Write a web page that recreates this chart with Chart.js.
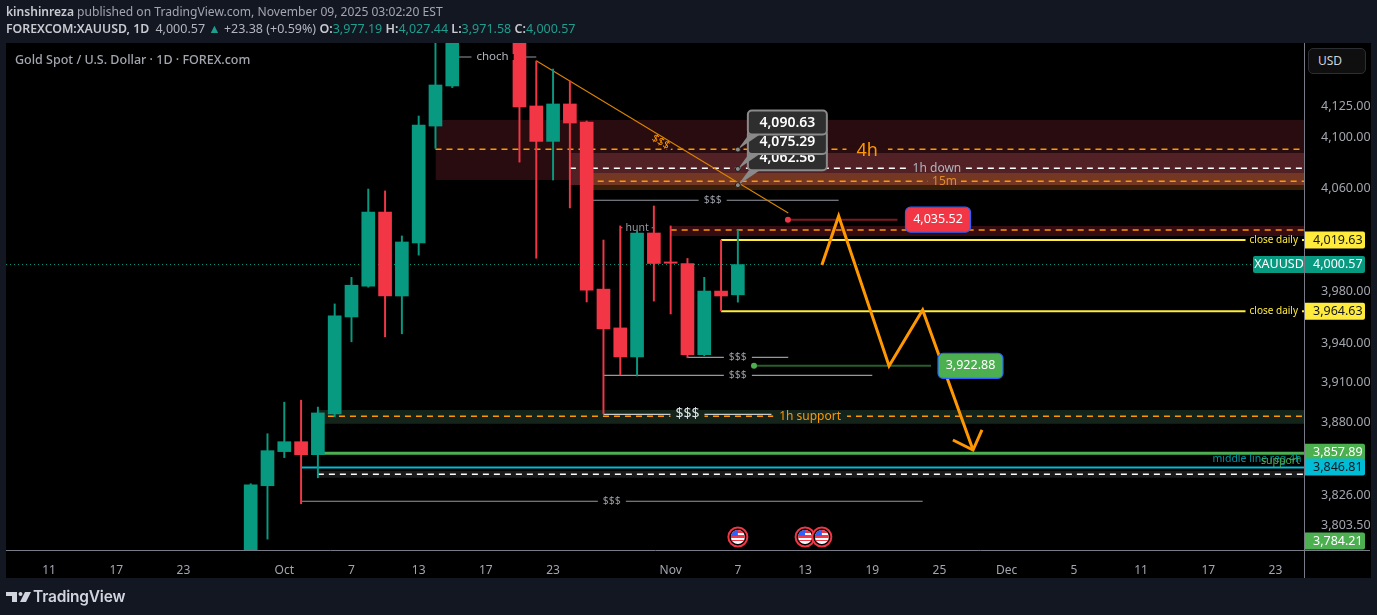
<!DOCTYPE html>
<html lang="en">
<head>
<meta charset="UTF-8">
<title>Gold Spot / U.S. Dollar</title>
<script src="https://cdn.jsdelivr.net/npm/chart.js"></script>
<style>
  html, body { margin: 0; padding: 0; background: #131722; width: 1377px; height: 615px; overflow: hidden; }
  body { font-family: 'Noto Sans', sans-serif; position: relative; }
  canvas { position: absolute; left: 0; top: 0; }
  .txt { position: absolute; white-space: pre; }
  #line1 { left: 6px; top: 3px; font-size: 12.1px; color: #a3a6af; }
  #line2 { left: 6px; top: 20px; font-size: 12.5px; color: #b2b5be; }
  #line1 b, #line2 b { color: #c8cad0; font-weight: 600; }
  #line2 b.sym { font-size: 12.3px; margin-right: 3px; }
  #line2 i { font-style: normal; color: #1f9e8e; }
  #title { left: 15px; top: 51px; font-size: 12.5px; font-weight: 500; color: #a3a6af; }
  #usd { left: 1308px; top: 48px; width: 58px; height: 26px; box-sizing: border-box; border: 1px solid #2c2e33; border-radius: 5px;
         background: #0f0f0f; color: #d1d4dc; font-size: 12px; line-height: 24px; padding-left: 9px; }
  #logo { left: 6px; top: 591px; }
  #brand { left: 33px; top: 587px; font-family: Inter, sans-serif; font-size: 15.5px; font-weight: 600; letter-spacing: -0.2px; color: #d1d4dc; }
</style>
</head>
<body>
<canvas id="chart" width="1377" height="615"></canvas>
<div class="txt" id="line1"><b>kinshinreza</b> published on TradingView.com, November 09, 2025 03:02:20 EST</div>
<div class="txt" id="line2"><b class="sym">FOREXCOM:XAUUSD, 1D</b> 4,000.57 <i>▲</i> +23.38 (+0.59%) <b>O:</b><i>3,977.19</i> <b>H:</b><i>4,027.44</i> <b>L:</b><i>3,971.58</i> <b>C:</b><i>4,000.57</i></div>
<div class="txt" id="title">Gold Spot / U.S. Dollar · 1D · FOREX.com</div>
<div class="txt" id="usd">USD</div>
<svg class="txt" id="logo" width="26" height="12" viewBox="0 0 26 12">
  <path d="M0 1h11v10H6V5H0z" fill="#d1d4dc"/><circle cx="14.5" cy="3" r="2" fill="#d1d4dc"/><path d="M19 1h6l-5 10h-6z" fill="#d1d4dc"/>
</svg>
<div class="txt" id="brand">TradingView</div>

<script>
// bars are counted from Oct 1
const candleBars = [-2, -1, 0, 1, 2, 3, 4, 5, 6, 7, 8, 9, 10, 14, 15, 16, 17, 18, 19, 20, 21, 22, 23, 24, 25, 26, 27];
const opens  = [3770, 3832.9, 3858.3, 3865.7, 3856.0, 3886.5, 3960.2, 3983.9, 4041.5, 3976.3, 4017.3, 4109.3, 4141.3, 4190, 4125.3, 4097.1, 4126.9, 4112.5, 3981.6, 3951.8, 3929.7, 4025.1, 4002.6, 4001.4, 3931.3, 3980.1, 3977.19];
const highs  = [3834.4, 3871.7, 3895.4, 3896.9, 3891.7, 3970.2, 3990.7, 4059.5, 4058.0, 4022.8, 4117.3, 4190, 4200, 4200, 4161.3, 4154.9, 4145.3, 4113.3, 4019.6, 4030.6, 4027.4, 4046.2, 4030.6, 4005.3, 3990.7, 4019.6, 4027.44];
const lows   = [3760, 3793.5, 3853.8, 3819.5, 3838.8, 3884.3, 3941.2, 3983.1, 3945.0, 3947.3, 4007.9, 4091.6, 4140, 4080.7, 4005.5, 4066.6, 4044.7, 3971.7, 3886.6, 3916.0, 3915.2, 3972.4, 3962.5, 3929.0, 3930.5, 3964.8, 3971.58];
const closes = [3833.6, 3859.0, 3865.7, 3856.0, 3887.3, 3961.0, 3984.6, 4041.5, 3976.3, 4018.1, 4110.1, 4142.1, 4190, 4124.5, 4097.1, 4126.9, 4111.7, 3980.8, 3951.1, 3929.7, 4025.1, 4001.4, 4001.6, 3931.3, 3980.1, 3976.3, 4000.57];

const timeTickBars = [-14, -10, -6, 0, 4, 8, 12, 16, 23, 27, 31, 35, 39, 43, 47, 51, 55, 59];
const timeTickLabels = ['11', '17', '23', 'Oct', '7', '13', '17', '23', 'Nov', '7', '13', '19', '25', 'Dec', '5', '11', '17', '23'];
const priceTicks = [4125, 4100, 4060, 3980, 3940, 3910, 3880, 3826, 3803.5];

const viewBars = [-16.565, 60.7];
const viewPrices = [3785.5, 4175.9];

// shaded zones: first bar, top price, bottom price
const zoneStarts  = [9, 17, 18, 18, 23, 2, 2];
const zoneTops    = [4114.1, 4087.9, 4072.1, 4072.1, 4030.6, 3889.5, 3843.8];
const zoneBottoms = [4066.6, 4062.6, 4058.7, 4062.6, 4022.8, 3879.2, 3838.8];

// horizontal levels: first bar, last bar, price
const dashedStarts = [9, 17, 18, 23, 2.6, 2];
const dashedPrices = [4090.9, 4075.9, 4065.6, 4027.44, 3884.8, 3841.4];
const thinStarts = [10.4, 18, 20, 24, 19, 19, 1];
const thinEnds   = [15, 33, 22, 30, 35, 29, 38];
const thinPrices = [4164.6, 4050.7, 4029.2, 3929.4, 3915.7, 3886.2, 3821.4];
const closeDailyPrices = [4019.63, 3964.63];
const closeDailyStart = 26;
const supportLevelPrices = [3857, 3846.4];
const supportLevelStarts = [2, 1];
const lastPrice = 4000.57;

const trendBars = [15, 30];
const trendPrices = [4161.6, 4040.7];
const targetPrices = [4035.52, 3922.88];
const targetStarts = [29.98, 27.96];
const targetEnds = [36.5, 38.5];

const pathBars = [32, 33, 36, 38, 41];
const pathPrices = [4000.2, 4038.4, 3922.8, 3965.6, 3859.5];
const arrowBars = [39.8, 41, 41.53];
const arrowPrices = [3867, 3859.5, 3874.5];

const calloutBar = 27;
const calloutPrices = [4090.63, 4075.29, 4062.56];
const eventBars = [27, 31, 32];

const noteTexts  = ['choch', '$$$', 'hunt', '$$$', '$$$', '$$$', '$$$', '$$$', '4h', '1h down', '15m', '1h support', 'close daily', 'close daily', 'middle line reg 4h', 'support'];
const noteBars   = [12.4, 25.5, 21, 27, 27, 24, 19.5, 22.4, 34.7, 38.85, 39.3, 31.3, 58.9, 58.9, 57.9, 59.3];
const notePrices = [4164.6, 4050.7, 4029.2, 3929.4, 3915.7, 3886.2, 3821.4, 4096.5, 4090.9, 4075.9, 4065.6, 3884.8, 4019.63, 3964.63, 3852.8, 3851.5];

// price tags on the right axis
const tagPrices = [4019.63, 4000.57, 3964.63, 3857.89, 3846.81, 3784.21];

const fmt = v => v.toLocaleString('en-US', { minimumFractionDigits: 2, maximumFractionDigits: 2 });
const FONT = "'Noto Sans', sans-serif";
const UP = '#089981', DOWN = '#f23645', ORANGE = '#ff9800', YELLOW = '#ffeb3b', GREEN = '#4caf50', CYAN = '#00bcd4', GREY = '#9598a1';

const zoneColors = ['#290c0f', '#522126', '#3a1f08', '#743723', '#360c11', '#14241a', '#1a1a1a'];
const dashedColors = [ORANGE, '#ffffff', ORANGE, ORANGE, ORANGE, '#ffffff'];
const noteLooks = [
  { size: 11.5, color: '#b2b5be', bg: '#000', pad: 5 },
  { size: 10.5, color: GREY, bg: '#000', pad: 5 },
  { size: 10.5, color: GREY, bg: '#000', pad: 3 },
  { size: 10.5, color: GREY, bg: '#000', pad: 5 },
  { size: 10.5, color: GREY, bg: '#000', pad: 5 },
  { size: 14, color: '#e0e3eb', bg: '#14241a', pad: 5 },
  { size: 10.5, color: GREY, bg: '#000', pad: 5 },
  { size: 11, color: ORANGE, bg: '#290c0f', pad: 3, rotate: 31 },
  { size: 18, color: ORANGE, bg: '#290c0f', pad: 10, dy: 2 },
  { size: 12, color: '#b2b5be', bg: '#522126', pad: 4 },
  { size: 12, color: '#e08a2c', bg: '#743723', pad: 4 },
  { size: 12, color: ORANGE, bg: '#14241a', pad: 6 },
  { size: 10, color: YELLOW, bg: '#000', pad: 4 },
  { size: 10, color: YELLOW, bg: '#000', pad: 4 },
  { size: 10.5, color: '#0097a7' },
  { size: 10.5, color: GREEN }
];
const tagLooks = [
  { fill: YELLOW, text: '#131722' },
  { fill: UP, text: '#ffffff', name: 'XAUUSD' },
  { fill: YELLOW, text: '#131722' },
  { fill: GREEN, text: '#ffffff' },
  { fill: CYAN, text: '#131722' },
  { fill: GREEN, text: '#ffffff' }
];

const line = (pts, color, width, extra) => Object.assign({
  type: 'line', data: pts, borderColor: color, borderWidth: width, pointRadius: 0, tension: 0, fill: false, order: 30
}, extra);
const level = (x0, x1, y, color, width, extra) => line([{ x: x0, y }, { x: x1, y }], color, width, extra);

const datasets = [];
zoneStarts.forEach((start, i) => {
  datasets.push(line([{ x: start, y: zoneTops[i] }, { x: viewBars[1], y: zoneTops[i] }], 'transparent', 0, {
    fill: { value: zoneBottoms[i] }, backgroundColor: zoneColors[i], order: 60 - i
  }));
});
dashedStarts.forEach((start, i) => {
  datasets.push(level(start, viewBars[1], dashedPrices[i], dashedColors[i], 1.4, { borderDash: [6, 5], order: 40 }));
});
datasets.push(level(viewBars[0], viewBars[1], lastPrice, UP, 1, { borderDash: [1, 3], order: 35 }));
thinStarts.forEach((start, i) => {
  datasets.push(level(start, thinEnds[i], thinPrices[i], i === 5 ? '#c8cad0' : GREY, 1.2, { order: 32 }));
});
closeDailyPrices.forEach(p => datasets.push(level(closeDailyStart, viewBars[1], p, YELLOW, 2)));
supportLevelPrices.forEach((p, i) => datasets.push(level(supportLevelStarts[i], viewBars[1], p, i ? CYAN : GREEN, i ? 2 : 3)));
datasets.push(line(trendBars.map((x, i) => ({ x, y: trendPrices[i] })), '#d98500', 1.1, { order: 25 }));
targetPrices.forEach((p, i) => {
  datasets.push(level(targetStarts[i], targetEnds[i], p, i ? '#2b5e2d' : '#801922', 2, { order: 24 }));
  datasets.push(line([{ x: targetStarts[i], y: p }], i ? GREEN : DOWN, 0, { pointRadius: 3, pointBackgroundColor: i ? GREEN : DOWN, pointBorderWidth: 0, order: 23 }));
});
datasets.push({
  type: 'bar', data: candleBars.map((x, i) => ({ x, y: [lows[i], highs[i]] })), grouped: false, barPercentage: 1, categoryPercentage: 1,
  maxBarThickness: 1.3, backgroundColor: closes.map((c, i) => c >= opens[i] ? UP : DOWN), order: 20
});
datasets.push({
  type: 'bar', data: candleBars.map((x, i) => ({ x, y: [opens[i], closes[i]] })), grouped: false, barPercentage: 1, categoryPercentage: 1,
  maxBarThickness: 13, minBarLength: 1, backgroundColor: closes.map((c, i) => c >= opens[i] ? UP : DOWN), order: 10
});
datasets.push(line(pathBars.map((x, i) => ({ x, y: pathPrices[i] })), ORANGE, 3, { order: 5 }));
datasets.push(line(arrowBars.map((x, i) => ({ x, y: arrowPrices[i] })), ORANGE, 3, { order: 5 }));

function roundBox(ctx, x, y, w, h, r, fill, stroke, sw) {
  ctx.beginPath();
  ctx.roundRect(x, y, w, h, r);
  ctx.fillStyle = fill;
  ctx.fill();
  if (stroke) { ctx.strokeStyle = stroke; ctx.lineWidth = sw; ctx.stroke(); }
}

function drawNotes(chart) {
  const { ctx, scales: { x, y } } = chart;
  noteTexts.forEach((text, i) => {
    const look = noteLooks[i];
    ctx.save();
    ctx.translate(x.getPixelForValue(noteBars[i]), y.getPixelForValue(notePrices[i]));
    if (look.rotate) ctx.rotate(look.rotate * Math.PI / 180);
    ctx.font = look.size + 'px ' + FONT;
    ctx.textAlign = 'center';
    ctx.textBaseline = 'middle';
    if (look.bg) {
      // only a short break in the line under the text, not a full box
      const w = ctx.measureText(text).width + look.pad * 2;
      ctx.fillStyle = look.bg;
      ctx.fillRect(-w / 2, -3, w, 6);
    }
    ctx.fillStyle = look.color;
    ctx.fillText(text, 0, look.dy || 0);
    ctx.restore();
  });
}

function drawTargets(chart) {
  const { ctx, scales: { y } } = chart;
  const lefts = [905.5, 938];
  const widths = [65, 65];
  targetPrices.forEach((p, i) => {
    const py = y.getPixelForValue(p);
    roundBox(ctx, lefts[i], py - 12.5, widths[i], 25, 5, i ? GREEN : DOWN, '#2962ff', 1.2);
    ctx.fillStyle = '#ffffff';
    ctx.font = '12.5px ' + FONT;
    ctx.textAlign = 'center';
    ctx.textBaseline = 'middle';
    ctx.fillText(fmt(p), lefts[i] + widths[i] / 2, py);
  });
}

function drawCallouts(chart) {
  const { ctx, scales: { x, y } } = chart;
  const dotX = x.getPixelForValue(calloutBar);
  [2, 1, 0].forEach(i => {
    const dotY = y.getPixelForValue(calloutPrices[i]);
    const left = dotX + 10, top = dotY - 39, right = dotX + 89, bottom = dotY - 15;
    ctx.beginPath();
    ctx.moveTo(dotX, dotY);
    ctx.lineTo(left + 1, bottom);
    ctx.lineTo(left + 12, bottom);
    ctx.closePath();
    ctx.fillStyle = '#8a8a8a';
    ctx.fill();
    roundBox(ctx, left, top, right - left, bottom - top, 4, '#2e2e2e', '#8a8a8a', 2);
    ctx.fillStyle = '#ffffff';
    ctx.font = '600 14px ' + FONT;
    ctx.textAlign = 'center';
    ctx.textBaseline = 'middle';
    ctx.fillText(fmt(calloutPrices[i]), (left + right) / 2, (top + bottom) / 2);
    ctx.beginPath();
    ctx.arc(dotX, dotY, 2.5, 0, Math.PI * 2);
    ctx.fillStyle = '#8a8a8a';
    ctx.strokeStyle = '#1a1a1a';
    ctx.lineWidth = 1;
    ctx.fill();
    ctx.stroke();
  });
}

function drawEvents(chart) {
  const { ctx, chartArea, scales: { x } } = chart;
  const py = chartArea.bottom - 13;
  eventBars.forEach(bar => {
    const px = x.getPixelForValue(bar);
    ctx.save();
    ctx.beginPath();
    ctx.arc(px, py, 9.5, 0, Math.PI * 2);
    ctx.fillStyle = '#000';
    ctx.fill();
    ctx.strokeStyle = DOWN;
    ctx.lineWidth = 2;
    ctx.stroke();
    ctx.beginPath();
    ctx.arc(px, py, 7, 0, Math.PI * 2);
    ctx.clip();
    ctx.fillStyle = '#ffffff';
    ctx.fillRect(px - 8, py - 8, 16, 16);
    ctx.fillStyle = DOWN;
    ctx.fillRect(px - 8, py - 7, 16, 3);
    ctx.fillRect(px - 8, py - 2, 16, 3);
    ctx.fillRect(px - 8, py + 3, 16, 1);
    ctx.fillStyle = '#2962ff';
    ctx.fillRect(px - 8, py - 8, 8, 7);
    ctx.restore();
  });
}

function drawTags(chart) {
  const { ctx, chartArea, scales: { y } } = chart;
  const left = chartArea.right + 1;
  tagPrices.forEach((p, i) => {
    const look = tagLooks[i];
    const py = Math.min(y.getPixelForValue(p), chartArea.bottom - 9);
    ctx.beginPath();
    ctx.roundRect(left, py - 8.5, 60, 17, [0, 2, 2, 0]);
    ctx.fillStyle = look.fill;
    ctx.fill();
    ctx.fillStyle = look.text;
    ctx.font = '12.5px ' + FONT;
    ctx.textAlign = 'left';
    ctx.textBaseline = 'middle';
    ctx.fillText(fmt(p), left + 8, py);
    if (look.name) {
      ctx.beginPath();
      ctx.roundRect(chartArea.right - 51, py - 8.5, 51, 17, [2, 0, 0, 2]);
      ctx.fillStyle = look.fill;
      ctx.fill();
      ctx.fillStyle = look.text;
      ctx.textAlign = 'center';
      ctx.fillText(look.name, chartArea.right - 25, py);
    }
  });
}

const tvOverlay = {
  id: 'tvOverlay',
  beforeDraw(chart) {
    const { ctx, chartArea } = chart;
    ctx.fillStyle = '#000';
    ctx.fillRect(chartArea.left, chartArea.top, 1365, 535);
  },
  afterDatasetsDraw(chart) {
    drawNotes(chart);
    drawTargets(chart);
    drawCallouts(chart);
    drawEvents(chart);
    drawTags(chart);
  },
  afterDraw(chart) {
    const { ctx, chartArea } = chart;
    ctx.strokeStyle = '#787b86';
    ctx.lineWidth = 1;
    ctx.beginPath();
    ctx.moveTo(chartArea.right + 0.5, chartArea.bottom);
    ctx.lineTo(chartArea.right + 0.5, 578);
    ctx.moveTo(chartArea.right, chartArea.bottom + 0.5);
    ctx.lineTo(1370, chartArea.bottom + 0.5);
    ctx.stroke();
  }
};

new Chart(document.getElementById('chart'), {
  data: { datasets },
  plugins: [tvOverlay],
  options: {
    responsive: false,
    animation: false,
    events: [],
    layout: { padding: { left: 6, top: 43, right: 6, bottom: 37 } },
    plugins: { legend: { display: false }, tooltip: { enabled: false } },
    scales: {
      x: {
        type: 'linear',
        offset: false,
        min: viewBars[0],
        max: viewBars[1],
        bounds: 'data',
        afterFit(s) { s.height = 28; },
        afterBuildTicks(s) { s.ticks = timeTickBars.map(value => ({ value })); },
        grid: { display: false },
        border: { color: '#787b86' },
        ticks: {
          autoSkip: false, maxRotation: 0, padding: 5, color: '#a3a6af', font: { family: FONT, size: 12 },
          callback: v => timeTickLabels[timeTickBars.indexOf(v)]
        }
      },
      y: {
        type: 'logarithmic',
        position: 'right',
        min: viewPrices[0],
        max: viewPrices[1],
        bounds: 'data',
        afterFit(s) { s.width = 67; },
        afterBuildTicks(s) { s.ticks = priceTicks.map(value => ({ value })); },
        grid: { display: false },
        border: { color: '#787b86' },
        ticks: {
          autoSkip: false, padding: 9, crossAlign: 'near', color: '#a3a6af', font: { family: FONT, size: 12.5 },
          major: { enabled: false },
          callback: v => fmt(v)
        }
      }
    }
  }
});
</script>
</body>
</html>
